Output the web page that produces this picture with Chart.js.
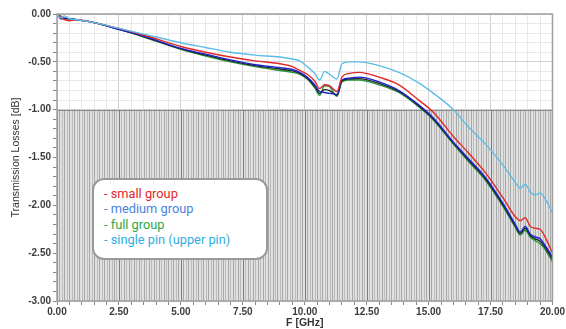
<!DOCTYPE html>
<html>
<head>
<meta charset="utf-8">
<script src="https://cdn.jsdelivr.net/npm/chart.js@4.4.0/dist/chart.umd.min.js"></script>
<style>
  html, body { margin: 0; padding: 0; background: #fff; }
  #wrap { position: relative; width: 566px; height: 329px; }
  #legendBox {
    position: absolute; left: 92px; top: 178px; width: 162px; height: 72px;
    background: #fff; border: 2px solid #9a9a9a; border-radius: 12px;
    font-family: Roboto, "Noto Sans", sans-serif; font-size: 12.8px; line-height: 15.4px;
    padding: 6px 0 0 10px; box-sizing: content-box;
  }
  #legendBox div { white-space: nowrap; }
</style>
</head>
<body>
<div id="wrap">
  <canvas id="chart"></canvas>
  <div id="legendBox"></div>
</div>
<script>
// frequency points [GHz]
const freq = [0, 0.15, 0.3, 0.5, 0.8, 1.5, 2.5, 3.5, 5, 6, 7, 8, 9, 9.5, 9.8, 10.1, 10.4, 10.6, 10.8, 11.0, 11.3, 11.5, 11.8, 12.2, 13, 13.8, 14.6, 15.2, 16, 16.6, 17.3, 18, 18.5, 18.7, 18.9, 19.1, 19.3, 19.5, 19.7, 20]

// transmission losses [dB]
const smallGroup = [0, -0.03, -0.06, -0.07, -0.06, -0.09, -0.15, -0.22, -0.34, -0.40, -0.45, -0.49, -0.52, -0.55, -0.59, -0.63, -0.70, -0.78, -0.74, -0.75, -0.81, -0.66, -0.62, -0.61, -0.66, -0.74, -0.90, -1.03, -1.28, -1.45, -1.66, -1.92, -2.12, -2.16, -2.13, -2.22, -2.24, -2.25, -2.33, -2.50]
const mediumGroup = [0, -0.05, -0.04, -0.05, -0.06, -0.09, -0.16, -0.23, -0.36, -0.42, -0.48, -0.53, -0.56, -0.58, -0.61, -0.66, -0.74, -0.81, -0.82, -0.83, -0.84, -0.69, -0.67, -0.66, -0.71, -0.80, -0.95, -1.09, -1.34, -1.51, -1.71, -1.98, -2.20, -2.28, -2.22, -2.30, -2.33, -2.35, -2.42, -2.54]
const otherGroup = [0, -0.04, -0.05, -0.05, -0.06, -0.09, -0.16, -0.235, -0.365, -0.43, -0.49, -0.54, -0.575, -0.595, -0.62, -0.67, -0.755, -0.83, -0.79, -0.80, -0.85, -0.70, -0.68, -0.675, -0.725, -0.81, -0.96, -1.10, -1.35, -1.525, -1.725, -1.995, -2.215, -2.295, -2.24, -2.315, -2.35, -2.375, -2.44, -2.565]
const fullGroup = [0, -0.02, -0.05, -0.05, -0.06, -0.09, -0.16, -0.24, -0.37, -0.44, -0.50, -0.55, -0.59, -0.61, -0.63, -0.68, -0.77, -0.85, -0.75, -0.76, -0.86, -0.71, -0.69, -0.69, -0.74, -0.82, -0.97, -1.11, -1.36, -1.54, -1.74, -2.01, -2.23, -2.31, -2.26, -2.33, -2.37, -2.40, -2.46, -2.59]
const singlePin = [0, -0.04, -0.02, -0.05, -0.06, -0.09, -0.15, -0.21, -0.30, -0.35, -0.40, -0.43, -0.45, -0.47, -0.49, -0.55, -0.62, -0.69, -0.60, -0.63, -0.68, -0.52, -0.50, -0.50, -0.54, -0.61, -0.72, -0.83, -1.00, -1.18, -1.36, -1.58, -1.76, -1.82, -1.78, -1.86, -1.89, -1.87, -1.93, -2.08]

const legendItems = ['- small group', '- medium group', '- full group', '- single pin (upper pin)']
const legendColors = ['#e0262c', '#4a82e0', '#2aa84a', '#2eaee0']

const pts = arr => arr.map((v, i) => ({ x: freq[i], y: v }))

// legend box
const lb = document.getElementById('legendBox')
legendItems.forEach((t, i) => {
  const d = document.createElement('div')
  d.textContent = t
  d.style.color = legendColors[i]
  lb.appendChild(d)
})

// grey hatched area below -1 dB + frame
const lowerZone = {
  id: 'lowerZone',
  beforeDatasetsDraw(chart) {
    const { ctx, chartArea: a, scales: { x, y } } = chart
    const top = y.getPixelForValue(-1)
    ctx.save()
    ctx.fillStyle = '#e0e0e0'
    ctx.fillRect(a.left, top, a.right - a.left, a.bottom - top)
    for (let i = 0; i <= 200; i++) {
      const px = Math.round(x.getPixelForValue(i / 10)) + 0.5
      ctx.strokeStyle = i % 25 === 0 ? '#7e7e7e' : (i % 2 ? '#a8a8a8' : '#bcbcbc')
      ctx.beginPath()
      ctx.moveTo(px, top)
      ctx.lineTo(px, a.bottom)
      ctx.stroke()
    }
    ctx.strokeStyle = '#8a8a8a'
    ctx.beginPath()
    ctx.moveTo(a.left, Math.round(top) + 0.5)
    ctx.lineTo(a.right, Math.round(top) + 0.5)
    ctx.stroke()
    ctx.restore()
  },
  afterDraw(chart) {
    const { ctx, chartArea: a } = chart
    ctx.save()
    ctx.strokeStyle = '#a0a0a0'
    ctx.lineWidth = 1.5
    ctx.strokeRect(a.left, a.top, a.right - a.left, a.bottom - a.top)
    ctx.restore()
  }
}

const isMult = (v, m) => Math.abs(v / m - Math.round(v / m)) < 1e-6

new Chart(document.getElementById('chart'), {
  type: 'line',
  data: {
    datasets: [
      { label: 'single pin (upper pin)', data: pts(singlePin), borderColor: '#5cbde6' },
      { label: 'small group', data: pts(smallGroup), borderColor: '#e22a2a' },
      { label: 'medium group', data: pts(mediumGroup), borderColor: '#1c22cc' },
      { label: 'other', data: pts(otherGroup), borderColor: '#1e2a2a' },
      { label: 'full group', data: pts(fullGroup), borderColor: '#2a9438' }
    ]
  },
  options: {
    responsive: true,
    maintainAspectRatio: false,
    animation: false,
    layout: { padding: { top: 14, right: 13, left: 10, bottom: 0 } },
    elements: {
      point: { radius: 0 },
      line: { borderWidth: 1.4, cubicInterpolationMode: 'monotone' }
    },
    plugins: { legend: { display: false }, tooltip: { enabled: false } },
    scales: {
      x: {
        type: 'linear',
        min: 0, max: 20,
        afterFit: s => { s.height = 28 },
        border: { display: false },
        grid: {
          color: c => isMult(c.tick.value, 2.5) ? '#d0d0d0' : '#e8e8e8',
          tickLength: 4,
          tickColor: '#888'
        },
        ticks: {
          stepSize: 0.5, autoSkip: false, maxRotation: 0, padding: 1,
          color: '#3c3c3c',
          font: { family: 'Liberation Sans', size: 10, weight: 'bold' },
          callback: v => isMult(v, 2.5) ? v.toFixed(2) : ''
        },
        title: {
          display: true, text: 'F [GHz]', color: '#333',
          font: { family: 'Liberation Sans', size: 10.5, weight: 'bold' },
          padding: { top: 0, bottom: 0 }
        }
      },
      y: {
        min: -3, max: 0,
        afterFit: s => { s.width = 47 },
        border: { display: false },
        grid: {
          color: c => isMult(c.tick.value, 0.5) ? '#d0d0d0' : '#e8e8e8',
          tickLength: 4,
          tickColor: '#888'
        },
        ticks: {
          stepSize: 0.1, autoSkip: false, padding: 2,
          color: '#3c3c3c',
          font: { family: 'Liberation Sans', size: 10, weight: 'bold' },
          callback: v => isMult(v, 0.5) ? v.toFixed(2) : ''
        },
        title: {
          display: true, text: 'Transmission Losses [dB]', color: '#333',
          font: { family: 'Liberation Sans', size: 10.5 },
          padding: { top: 0, bottom: 0 }
        }
      }
    }
  },
  plugins: [lowerZone]
})
</script>
</body>
</html>
